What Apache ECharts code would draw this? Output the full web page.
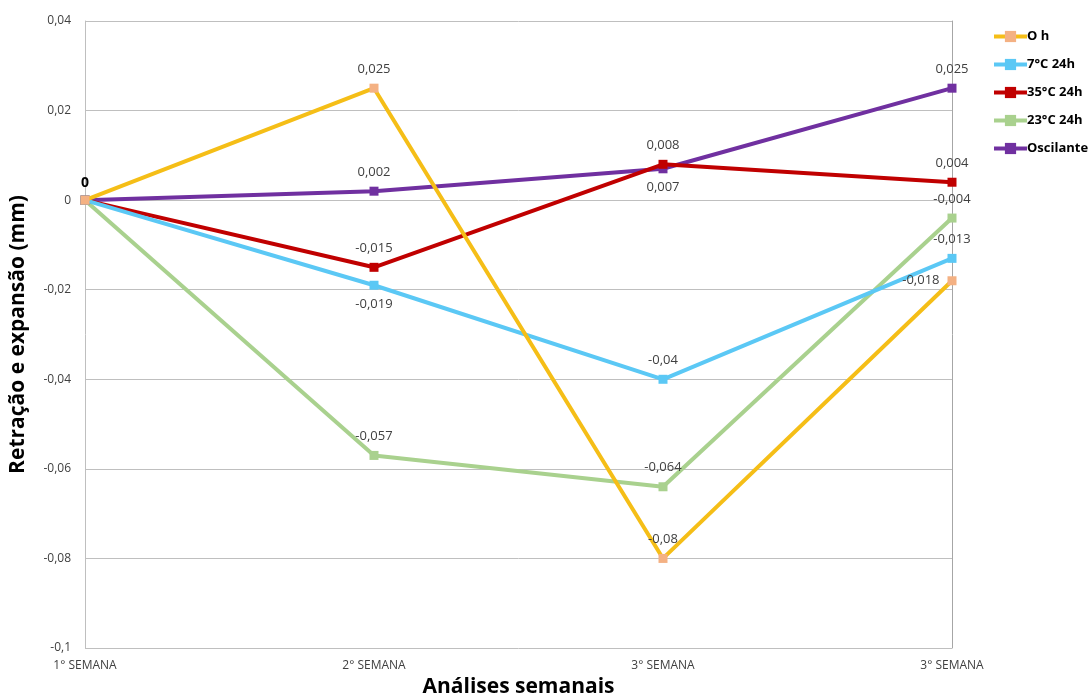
<!DOCTYPE html>
<html>
<head>
<meta charset="utf-8">
<script src="https://cdn.jsdelivr.net/npm/echarts@6/dist/echarts.min.js"></script>
<style>
  html, body { margin: 0; padding: 0; background: #fff; }
  #chart { width: 1088px; height: 695px; }
</style>
</head>
<body>
<div id="chart"></div>
<script>
// Weekly shrinkage / expansion measurements (mm)
const categories = ['1° SEMANA', '2° SEMANA', '3° SEMANA', '3° SEMANA'];
const yTicks = { min: -0.1, max: 0.04, step: 0.02 };

const seriesNames = ['O h', '7°C 24h', '35°C 24h', '23°C 24h', 'Oscilante'];
const valsOh        = [0, 0.025, -0.08, -0.018];
const vals7C        = [0, -0.019, -0.04, -0.013];
const vals35C       = [0, -0.015, 0.008, 0.004];
const vals23C       = [0, -0.057, -0.064, -0.004];
const valsOscilante = [0, 0.002, 0.007, 0.025];

// Presentation: colours and per-point label placement (null = no label)
const styles = [
  { line: '#F5BE17', marker: '#F4B183', labels: [null, 'top', 'top', 'left'] },
  { line: '#5BC8F5', marker: '#5BC8F5', labels: [null, 'bottom', 'top', 'top'] },
  { line: '#C00000', marker: '#C00000', labels: [null, 'top', 'top', 'top'] },
  { line: '#A9D18E', marker: '#A9D18E', labels: [null, 'top', 'top', 'top'] },
  { line: '#7030A0', marker: '#7030A0', labels: ['top', 'top', 'bottom', 'top'] }
];
const allValues = [valsOh, vals7C, vals35C, vals23C, valsOscilante];

const fmt = v => Number(Number(v).toFixed(3)).toString().replace('.', ',');

const series = seriesNames.map((name, i) => ({
  name,
  type: 'line',
  yAxisIndex: 0,
  symbol: 'rect',
  symbolSize: 9,
  z: 10 - i,
  lineStyle: { color: styles[i].line, width: 4 },
  itemStyle: { color: styles[i].marker },
  data: allValues[i].map((v, j) => {
    const pos = styles[i].labels[j];
    const isZeroLabel = (j === 0);
    return {
      value: v,
      label: pos ? {
        show: true,
        position: pos,
        distance: isZeroLabel ? 6 : 8,
        formatter: p => fmt(p.value),
        fontFamily: 'Open Sans, sans-serif',
        fontSize: isZeroLabel ? 14 : 13,
        fontWeight: isZeroLabel ? 'bold' : 'normal',
        color: isZeroLabel ? '#000' : '#404040'
      } : { show: false }
    };
  })
}));

const chart = echarts.init(document.getElementById('chart'));
chart.setOption({
  animation: false,
  backgroundColor: '#fff',
  grid: { left: 85, right: 136, top: 21, bottom: 47, outerBoundsMode: 'none', containLabel: false },
  legend: {
    orient: 'vertical',
    left: 987,
    top: 25,
    itemGap: 15,
    itemWidth: 33,
    itemHeight: 14,
    textStyle: { fontFamily: 'Open Sans, sans-serif', fontSize: 13, fontWeight: 'bold', color: '#000', padding: [0, 0, 0, -5] },
    data: seriesNames.map(n => ({ name: n, lineStyle: { width: 4 }, itemStyle: { borderWidth: 0 } }))
  },
  xAxis: {
    type: 'category',
    data: categories,
    boundaryGap: false,
    position: 'bottom',
    axisLine: { show: false },
    axisTick: { show: false },
    axisLabel: {
      margin: 12,
      fontFamily: 'Open Sans, sans-serif',
      fontSize: 12,
      color: '#404040'
    },
    name: 'Análises semanais',
    nameLocation: 'middle',
    nameGap: 29,
    nameTextStyle: { fontFamily: 'Open Sans, sans-serif', fontSize: 21, fontWeight: 'bold', color: '#000' }
  },
  yAxis: [{
    type: 'value',
    min: yTicks.min,
    max: yTicks.max,
    interval: yTicks.step,
    axisLine: { show: true, lineStyle: { color: '#BFBFBF' } },
    axisTick: { show: false },
    splitLine: { lineStyle: { color: '#BFBFBF', width: 1 } },
    axisLabel: {
      formatter: fmt,
      margin: 14,
      fontFamily: 'Open Sans, sans-serif',
      fontSize: 12,
      color: '#404040'
    },
    name: 'Retração e expansão (mm)',
    nameLocation: 'middle',
    nameGap: 56,
    nameTextStyle: { fontFamily: 'Open Sans, sans-serif', fontSize: 21, fontWeight: 'bold', color: '#000' }
  }, {
    type: 'value',
    position: 'right',
    min: yTicks.min,
    max: yTicks.max,
    interval: yTicks.step,
    axisLine: { show: true, lineStyle: { color: '#A6A6A6' } },
    axisTick: { show: false },
    axisLabel: { show: false },
    splitLine: { show: false }
  }],
  series
});
</script>
</body>
</html>
